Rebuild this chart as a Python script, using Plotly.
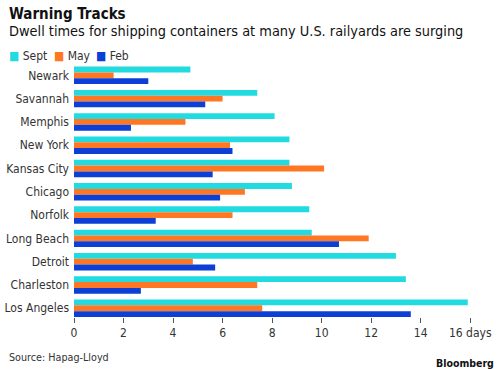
import plotly.graph_objects as go

categories = ["Newark", "Savannah", "Memphis", "New York", "Kansas City", "Chicago",
              "Norfolk", "Long Beach", "Detroit", "Charleston", "Los Angeles"]
sept = [4.7, 7.4, 8.1, 8.7, 8.7, 8.8, 9.5, 9.6, 13.0, 13.4, 15.9]
may = [1.6, 6.0, 4.5, 6.3, 10.1, 6.9, 6.4, 11.9, 4.8, 7.4, 7.6]
feb = [3.0, 5.3, 2.3, 6.4, 5.6, 5.9, 3.3, 10.7, 5.7, 2.7, 13.6]
series_names = ["Sept", "May", "Feb"]
series_colors = ["#22dbe0", "#ff7722", "#0b3fd6"]
tick_vals = [0, 2, 4, 6, 8, 10, 12, 14, 16]
tick_text = ["0", "2", "4", "6", "8", "10", "12", "14", "16 days"]

FONT = "DejaVu Sans Condensed"
ML, MR, MT, MB = 74, 5, 66, 52
W, H = 500, 369
fig = go.Figure()
for name, vals, col in zip(series_names, [sept, may, feb], series_colors):
    fig.add_trace(go.Bar(y=categories, x=vals, name=name, orientation="h",
                         marker=dict(color=col, line=dict(width=0)),
                         showlegend=False))

fig.update_layout(
    width=W, height=H,
    barmode="group", bargap=0.25, bargroupgap=0,
    plot_bgcolor="white", paper_bgcolor="white",
    margin=dict(l=ML, r=MR, t=MT, b=MB, autoexpand=False),
    font=dict(family=FONT, size=12, color="#333333"),
    xaxis=dict(range=[0, 17], tickvals=tick_vals, ticktext=tick_text,
               showgrid=False, zeroline=False, showline=False, automargin=False,
               ticks="outside", ticklen=5, tickcolor="#555555", tickwidth=1,
               tickfont=dict(size=12, color="#333333")),
    yaxis=dict(type="category", categoryorder="array", categoryarray=categories,
               range=[10.375, -0.4], showgrid=False, zeroline=False, automargin=False,
               ticks="", ticklabelstandoff=4,
               tickfont=dict(size=12, color="#333333")),
)

def px_ann(text, xpx, ypx, size, color, xanchor="left", family=FONT):
    pw, ph = W - ML - MR, H - MT - MB
    fig.add_annotation(text=text, xref="paper", yref="paper",
                       x=(xpx - ML) / pw, y=1 - (ypx - MT) / ph,
                       showarrow=False, xanchor=xanchor, yanchor="middle",
                       xshift=0, yshift=0, borderpad=0,
                       font=dict(family=family, size=size, color=color))

px_ann("<b>Warning Tracks</b>", 8, 14, 15, "#111111")
px_ann("Dwell times for shipping containers at many U.S. railyards are surging", 8, 31, 14.4, "#111111")
px_ann("Source: Hapag-Lloyd", 8, 357, 10.7, "#333333")
px_ann("<b>Bloomberg</b>", 495, 363, 10.5, "#111111", xanchor="right")

# legend as text
legend_x = [8, 53, 95]
for name, col, lx in zip(series_names, series_colors, legend_x):
    px_ann(f"<span style='color:{col}'>■</span> {name}", lx, 56, 12, "#333333")

fig.write_html("out.html", config={"displayModeBar": False},
               post_script="document.body.style.margin='0';document.body.style.padding='0';")
